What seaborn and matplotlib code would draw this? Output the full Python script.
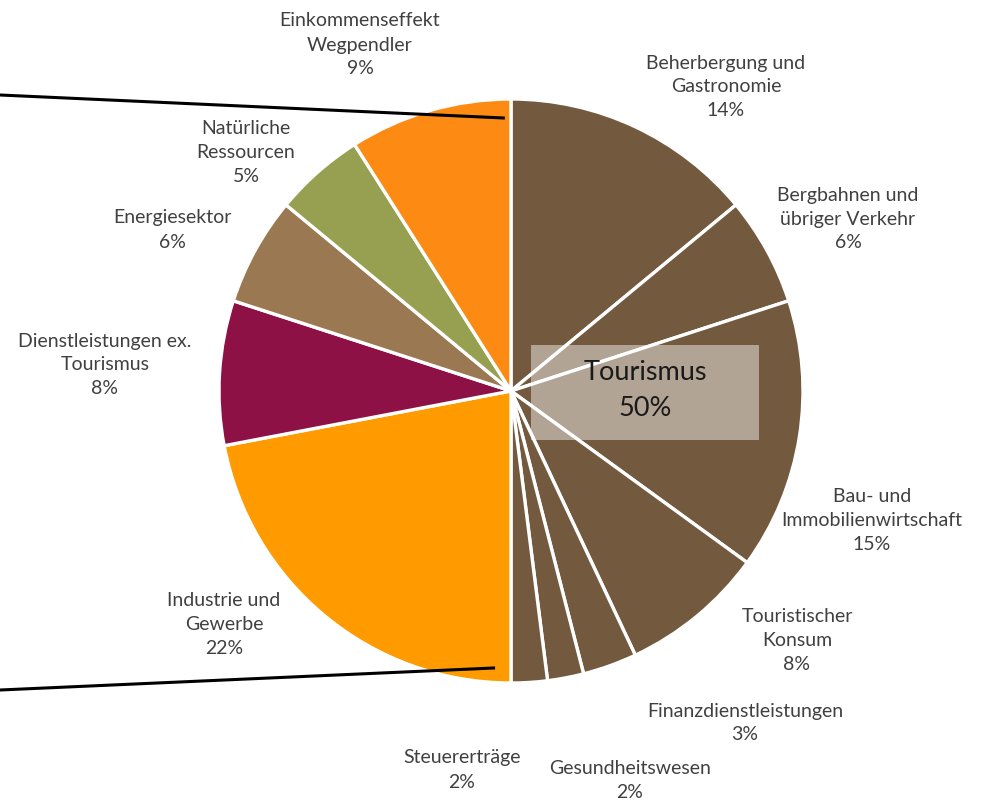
import numpy as np
import matplotlib
matplotlib.use("Agg")
import matplotlib.pyplot as plt
import seaborn as sns

# Sectors, clockwise from 12 o'clock
labels = [
    "Beherbergung und\nGastronomie",
    "Bergbahnen und\nübriger Verkehr",
    "Bau- und\nImmobilienwirtschaft",
    "Touristischer\nKonsum",
    "Finanzdienstleistungen",
    "Gesundheitswesen",
    "Steuererträge",
    "Industrie und\nGewerbe",
    "Dienstleistungen ex.\nTourismus",
    "Energiesektor",
    "Natürliche\nRessourcen",
    "Einkommenseffekt\nWegpendler",
]
shares = [14, 6, 15, 8, 3, 2, 2, 22, 8, 6, 5, 9]
tourism_label = "Tourismus"
tourism_share = 50

BROWN = "#735A3F"
colors = [BROWN] * 7 + ["#FF9A00", "#8E1146", "#9A7851", "#97A050", "#FD8A12"]

# Label centres in pixel coordinates (x, y from top)
label_pos = [
    (726, 87), (848, 219), (872, 520), (797, 640), (745, 723), (630, 781),
    (462, 770), (224, 625), (105, 365), (172, 230), (246, 153), (360, 45),
]

W, H = 984, 801
sns.set_theme(style="white")
plt.rcParams["font.family"] = ["Lato", "DejaVu Sans"]

fig = plt.figure(figsize=(W / 100, H / 100), dpi=100)
ax = fig.add_axes([0, 0, 1, 1])

cx, cy, R = 511, H - 391, 292
wedges, _ = ax.pie(
    shares, colors=colors, startangle=90, counterclock=False,
    center=(cx, cy), radius=R,
    wedgeprops=dict(edgecolor="white", linewidth=2.4),
)
ax.set_xlim(0, W)
ax.set_ylim(0, H)
ax.set_aspect("auto")
ax.axis("off")

for text, val, (x, y) in zip(labels, shares, label_pos):
    ax.text(x, H - y, f"{text}\n{val}%", ha="center", va="center",
            fontsize=14, color="#404040", linespacing=1.5)

# Tourism summary box
ax.add_patch(plt.Rectangle((531, H - 440), 228, 95, facecolor="white",
                           alpha=0.45, edgecolor="none", zorder=5))
ax.text(645, H - 391, f"{tourism_label}\n{tourism_share}%", ha="center",
        va="center", fontsize=19.5, color="#1a1a1a", linespacing=1.55, zorder=6)

# Connector lines from the tourism split boundaries to the left edge
total = sum(shares)
split = sum(shares[:7]) / total
for frac, r, da, y_left in [(0.0, 0.935, 1.3, 95), (split, 0.95, -3.3, 690)]:
    a = np.deg2rad(90 - 360 * frac + da)
    px, py = cx + r * R * np.cos(a), cy + r * R * np.sin(a)
    ax.plot([0, px], [H - y_left, py], color="black", lw=2.2,
            solid_capstyle="butt", zorder=7)

fig.savefig("out.png", dpi=100, facecolor="white")
